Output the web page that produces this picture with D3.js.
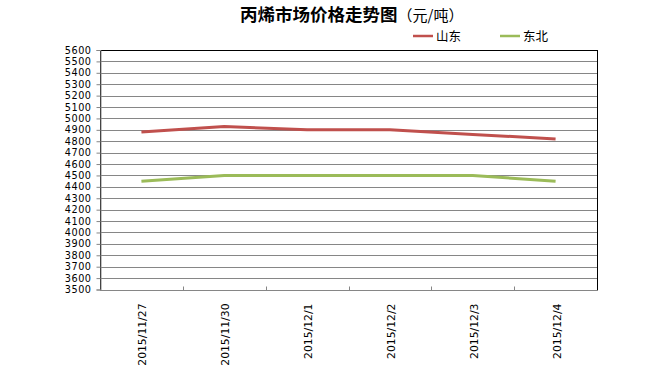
<!DOCTYPE html>
<html><head><meta charset="utf-8">
<script src="https://cdn.jsdelivr.net/npm/d3@7"></script>
<style>body{margin:0;background:#fff;}svg{display:block;}</style>
</head><body>
<script>
const categories = ["2015/11/27","2015/11/30","2015/12/1","2015/12/2","2015/12/3","2015/12/4"];
const shandong = [4880, 4930, 4900, 4900, 4860, 4820];
const dongbei = [4450, 4500, 4500, 4500, 4500, 4450];
const seriesNames = ["山东","东北"];
const seriesColors = ["#C0504D","#9BBB59"];
const yTicks = d3.range(3500, 5601, 100);

const W = 654, H = 369;
const L = 100, R = 597, T = 50, B = 289.5;
const svg = d3.select("body").append("svg").attr("width", W).attr("height", H);

const x = d3.scaleBand().domain(categories).range([L, R]);
const y = d3.scaleLinear().domain([3500, 5600]).range([B, T]);

// gridlines
svg.append("g").selectAll("line").data(yTicks).join("line")
  .attr("x1", L).attr("x2", R)
  .attr("y1", d => Math.round(y(d)) + 0.5).attr("y2", d => Math.round(y(d)) + 0.5)
  .attr("stroke", "#868686").attr("stroke-width", 1);

// border
svg.append("rect").attr("x", L + 0.5).attr("y", Math.round(T) + 0.5)
  .attr("width", R - L).attr("height", Math.round(B) - Math.round(T))
  .attr("fill", "none").attr("stroke", "#000").attr("stroke-width", 1);

// y axis
const yAxis = d3.axisLeft(y).tickValues(yTicks).tickSize(4).tickPadding(5).tickFormat(d3.format("d"));
const gy = svg.append("g").attr("transform", `translate(${L + 0.5},0)`).call(yAxis);
gy.select(".domain").attr("stroke", "#868686");
gy.selectAll(".tick line").attr("stroke", "#868686");
gy.selectAll(".tick text").attr("font-family", "DejaVu Sans, Verdana, sans-serif").attr("font-size", "9.7px")
  .attr("letter-spacing", "0.5px").attr("fill", "#000");

// x axis (ticks at category boundaries, pointing up)
const gx = svg.append("g").attr("transform", `translate(0,${Math.round(B) + 0.5})`);
gx.append("line").attr("x1", L).attr("x2", R + 1).attr("stroke", "#868686");
gx.selectAll("line.tk").data(categories.slice(1)).join("line").attr("class", "tk")
  .attr("x1", d => Math.round(x(d)) + 0.5).attr("x2", d => Math.round(x(d)) + 0.5)
  .attr("y1", 0).attr("y2", -4).attr("stroke", "#868686");
gx.selectAll("text").data(categories).join("text")
  .attr("transform", d => `translate(${x(d) + x.bandwidth() / 2 + 5},13) rotate(-90)`)
  .attr("text-anchor", "end")
  .attr("font-family", "DejaVu Sans, Verdana, sans-serif").attr("font-size", "10.8px").attr("fill", "#000")
  .text(d => d);

// lines
const line = d3.line().x((d, i) => x(categories[i]) + x.bandwidth() / 2).y(d => y(d));
[shandong, dongbei].forEach((s, i) => {
  svg.append("path").datum(s).attr("d", line).attr("fill", "none")
    .attr("stroke", seriesColors[i]).attr("stroke-width", 3).attr("stroke-linejoin", "round").attr("stroke-linecap", "butt");
});

// title
const title = svg.append("text").attr("x", 240).attr("y", 21)
  .attr("font-family", "Noto Sans CJK SC, sans-serif").attr("fill", "#000");
title.append("tspan").attr("font-size", "17.5px").attr("font-weight", "bold").text("丙烯市场价格走势图");
title.append("tspan").attr("font-size", "15px").text("（元/吨）");

// legend
const legX = [413, 500];
seriesNames.forEach((n, i) => {
  svg.append("line").attr("x1", legX[i]).attr("x2", legX[i] + 20).attr("y1", 36).attr("y2", 36)
    .attr("stroke", seriesColors[i]).attr("stroke-width", 2.5);
  svg.append("text").attr("x", legX[i] + 23).attr("y", 41)
    .attr("font-family", "Noto Sans CJK SC, sans-serif").attr("font-size", "12.5px").attr("fill", "#000").text(n);
});
</script>
</body></html>
